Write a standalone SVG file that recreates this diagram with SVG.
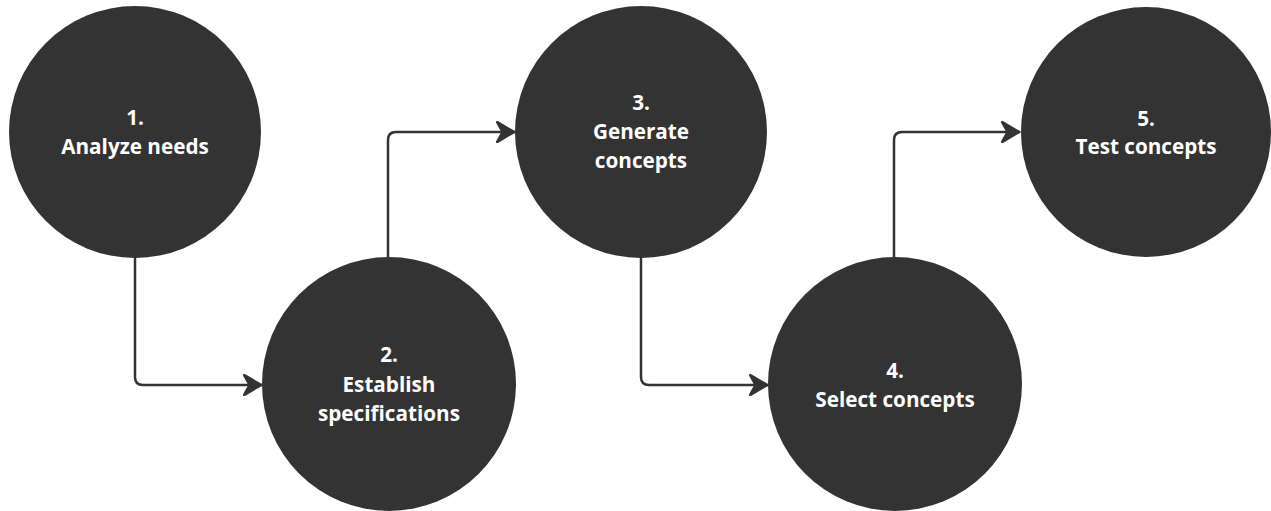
<svg xmlns="http://www.w3.org/2000/svg" width="1271" height="511" viewBox="0 0 1271 511">
  <style>
    .node { fill: #333333; }
    .label { fill: #ffffff; font-family: "Open Sans", "Noto Sans", "Liberation Sans", sans-serif; font-weight: 700; font-size: 20.7px; text-anchor: middle; }
    .link { fill: none; stroke: #333333; stroke-width: 2.5; stroke-linejoin: round; marker-end: url(#arrow); }
  </style>
  <defs>
    <marker id="arrow" markerUnits="userSpaceOnUse" markerWidth="24" markerHeight="26" refX="20" refY="12" orient="auto" overflow="visible">
      <path d="M20,12 L3,2 Q1,1 2,3 L7,12 L2,21 Q1,23 3,22 Z" fill="#333333" stroke="#333333" stroke-width="1.5" stroke-linejoin="round"/>
    </marker>
  </defs>
  <rect width="1271" height="511" fill="#ffffff"/>

  <g id="connectors">
    <path class="link" d="M135,258 V377 Q135,385 143,385 H262"/>
    <path class="link" d="M388,257 V140 Q388,132 396,132 H515"/>
    <path class="link" d="M641,258 V377 Q641,385 649,385 H768"/>
    <path class="link" d="M894,257 V140 Q894,132 902,132 H1020"/>
  </g>

  <g id="node-1">
    <circle class="node" cx="135" cy="132" r="126"/>
    <text class="label" x="135" y="125">1.</text>
    <text class="label" x="135" y="154">Analyze needs</text>
  </g>

  <g id="node-2">
    <circle class="node" cx="389" cy="384" r="127"/>
    <text class="label" x="389" y="362">2.</text>
    <text class="label" x="389" y="392">Establish</text>
    <text class="label" x="389" y="421">specifications</text>
  </g>

  <g id="node-3">
    <circle class="node" cx="641" cy="132" r="126"/>
    <text class="label" x="641" y="110">3.</text>
    <text class="label" x="641" y="139">Generate</text>
    <text class="label" x="641" y="168">concepts</text>
  </g>

  <g id="node-4">
    <circle class="node" cx="895" cy="384" r="127"/>
    <text class="label" x="895" y="378">4.</text>
    <text class="label" x="895" y="407">Select concepts</text>
  </g>

  <g id="node-5">
    <circle class="node" cx="1146" cy="132" r="125"/>
    <text class="label" x="1146" y="126">5.</text>
    <text class="label" x="1146" y="154">Test concepts</text>
  </g>
</svg>
